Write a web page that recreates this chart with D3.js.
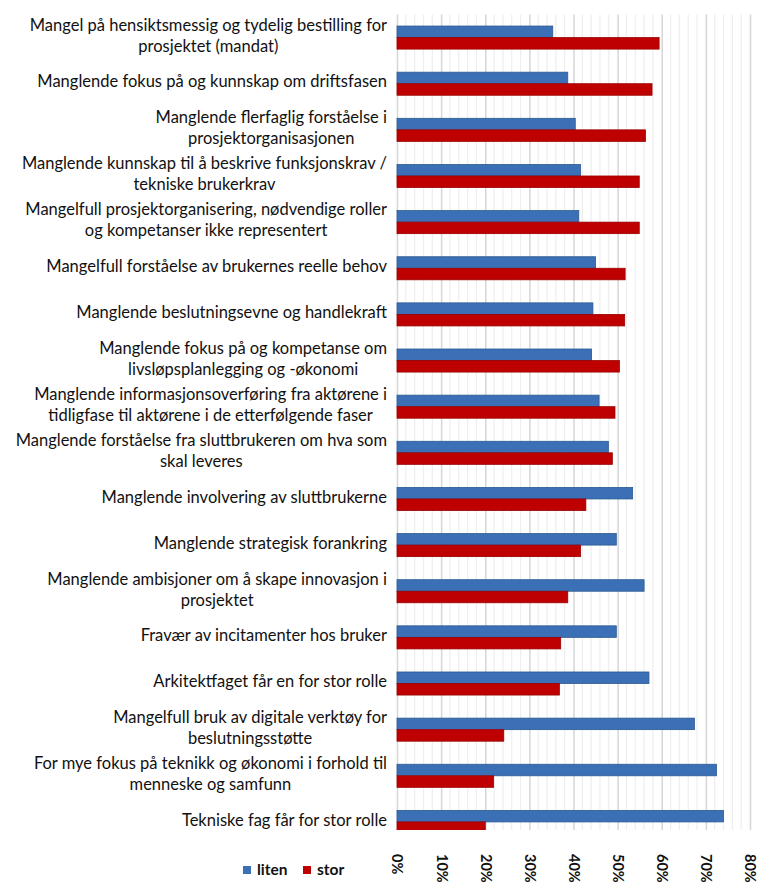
<!DOCTYPE html>
<html>
<head>
<meta charset="utf-8">
<script src="https://cdn.jsdelivr.net/npm/d3@7"></script>
<style>
  body { margin: 0; background: #fff; }
  svg { display: block; font-family: Lato, "Open Sans", sans-serif; }
</style>
</head>
<body>
<script>
// data
var categories = [
  "Mangel på hensiktsmessig og tydelig bestilling for\nprosjektet (mandat)",
  "Manglende fokus på og kunnskap om driftsfasen",
  "Manglende flerfaglig forståelse i\nprosjektorganisasjonen",
  "Manglende kunnskap til å beskrive funksjonskrav /\ntekniske brukerkrav",
  "Mangelfull prosjektorganisering, nødvendige roller\nog kompetanser ikke representert",
  "Mangelfull forståelse av brukernes reelle behov",
  "Manglende beslutningsevne og handlekraft",
  "Manglende fokus på og kompetanse om\nlivsløpsplanlegging og -økonomi",
  "Manglende informasjonsoverføring fra aktørene i\ntidligfase til aktørene i de etterfølgende faser",
  "Manglende forståelse fra sluttbrukeren om hva som\nskal leveres",
  "Manglende involvering av sluttbrukerne",
  "Manglende strategisk forankring",
  "Manglende ambisjoner om å skape innovasjon i\nprosjektet",
  "Fravær av incitamenter hos bruker",
  "Arkitektfaget får en for stor rolle",
  "Mangelfull bruk av digitale verktøy for\nbeslutningsstøtte",
  "For mye fokus på teknikk og økonomi i forhold til\nmenneske og samfunn",
  "Tekniske fag får for stor rolle"
];
var liten = [35.3, 38.7, 40.4, 41.6, 41.2, 45.0, 44.4, 44.1, 45.8, 47.9, 53.4, 49.7, 56.0, 49.7, 57.1, 67.4, 72.4, 74.0];
var stor  = [59.4, 57.8, 56.3, 54.9, 54.9, 51.7, 51.6, 50.4, 49.4, 48.8, 42.8, 41.6, 38.7, 37.1, 36.8, 24.2, 21.9, 20.0];
var series = ["liten", "stor"];
var seriesColors = ["#3b70b6", "#bf0000"];
var seriesStroke = ["#2c5a92", "#9a0000"];
var majorTicks = [0, 10, 20, 30, 40, 50, 60, 70, 80];

var width = 760, height = 885;
var svg = d3.select("body").append("svg")
  .attr("width", width)
  .attr("height", height);

var x = d3.scaleLinear().domain([0, 80]).range([397, 750]);
var y = d3.scaleBand()
  .domain(d3.range(categories.length))
  .range([14.5, 845])
  .paddingInner(0.5)
  .paddingOuter(0.25);
var ySub = d3.scaleBand().domain(series).range([0, y.bandwidth()]);

var plotBottom = 830;

svg.append("defs").append("clipPath").attr("id", "plotclip")
  .append("rect")
  .attr("x", 0).attr("y", 0)
  .attr("width", width).attr("height", plotBottom);

var plot = svg.append("g").attr("clip-path", "url(#plotclip)");

// minor grid every 2%
var minor = d3.range(0, 81, 2).filter(function(d){ return d % 10 !== 0; });
plot.selectAll(".minor")
  .data(minor)
  .enter()
  .append("line")
  .attr("class", "minor")
  .attr("x1", function(d){ return x(d); })
  .attr("x2", function(d){ return x(d); })
  .attr("y1", 14.5)
  .attr("y2", plotBottom)
  .attr("stroke", "#eeeeee")
  .attr("stroke-width", 1.2);

// major grid
var xGrid = d3.axisBottom(x)
  .tickValues(majorTicks)
  .tickSize(-(plotBottom - 14.5))
  .tickFormat("");
plot.append("g")
  .attr("transform", "translate(0," + plotBottom + ")")
  .call(xGrid)
  .call(function(g){
    g.select(".domain").remove();
    g.selectAll(".tick line").attr("stroke", "#d6d6d6").attr("stroke-width", 1.5);
  });

// bars
var groups = plot.selectAll(".grp")
  .data(categories)
  .enter()
  .append("g")
  .attr("class", "grp")
  .attr("transform", function(d, i){ return "translate(0," + y(i) + ")"; });

groups.selectAll("rect")
  .data(function(d, i){ return [{k: "liten", v: liten[i]}, {k: "stor", v: stor[i]}]; })
  .enter()
  .append("rect")
  .attr("x", x(0))
  .attr("y", function(d){ return ySub(d.k); })
  .attr("width", function(d){ return x(d.v) - x(0); })
  .attr("height", ySub.bandwidth())
  .attr("fill", function(d){ return seriesColors[series.indexOf(d.k)]; })
  .attr("stroke", function(d){ return seriesStroke[series.indexOf(d.k)]; })
  .attr("stroke-width", 0.8);

// category labels, lines centred within a right-aligned block
var lineH = 21;
var labels = svg.append("g").attr("class", "labels")
  .attr("font-size", "16.5px")
  .attr("fill", "#111");

categories.forEach(function(c, i){
  var lines = c.split("\n");
  var cy = y(i) + y.bandwidth() / 2 - 2;
  var g = labels.append("g");
  var texts = g.selectAll("text")
    .data(lines)
    .enter()
    .append("text")
    .attr("y", function(d, j){ return cy + (j - (lines.length - 1) / 2) * lineH; })
    .attr("dy", "0.35em")
    .attr("text-anchor", "middle")
    .text(function(d){ return d; });
  var maxW = 0;
  texts.each(function(){ maxW = Math.max(maxW, this.getComputedTextLength()); });
  texts.attr("x", 387 - maxW / 2);
});

// x tick labels, rotated
var xAxis = d3.axisBottom(x)
  .tickValues(majorTicks)
  .tickSize(0)
  .tickFormat(function(d){ return d + "%"; });
svg.append("g")
  .attr("transform", "translate(0,854)")
  .call(xAxis)
  .call(function(g){
    g.select(".domain").remove();
    g.selectAll("text")
      .attr("font-family", "Lato, sans-serif")
      .attr("font-size", "14.5px")
      .attr("font-weight", "bold")
      .attr("fill", "#111")
      .attr("y", 0)
      .attr("x", 0)
      .attr("dy", "0.35em")
      .attr("text-anchor", "start")
      .attr("transform", "rotate(90)");
  });

// legend
var legendX = [243, 303];
var legend = svg.append("g").attr("class", "legend");
series.forEach(function(s, i){
  legend.append("rect")
    .attr("x", legendX[i]).attr("y", 866)
    .attr("width", 8).attr("height", 8)
    .attr("fill", seriesColors[i]);
  legend.append("text")
    .attr("x", legendX[i] + 14).attr("y", 870)
    .attr("dy", "0.35em")
    .attr("font-size", "15.5px")
    .attr("font-weight", "bold")
    .attr("fill", "#111")
    .text(s);
});
</script>
</body>
</html>
